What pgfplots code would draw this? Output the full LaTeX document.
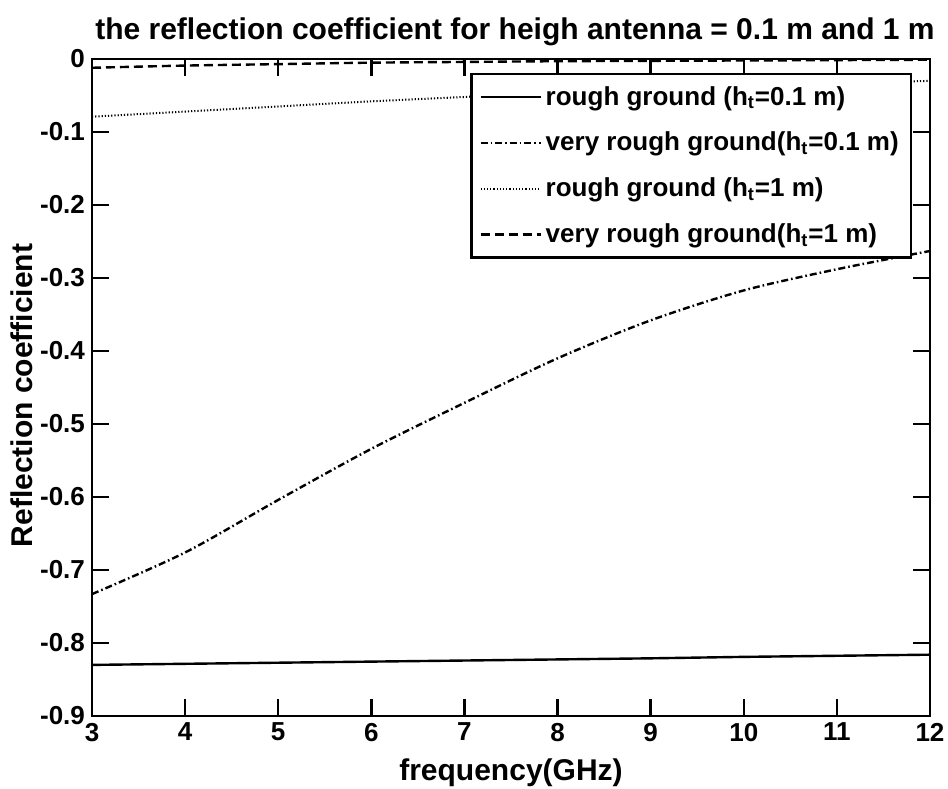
\documentclass[border=0pt]{standalone}
\usepackage{fontspec}
\setmainfont{Liberation Sans}
\usepackage{pgfplots}
\pgfplotsset{compat=1.18}

\begin{document}
\begin{tikzpicture}
\useasboundingbox (-46pt,-36pt) rectangle (428pt,358pt);
\begin{axis}[
    scale only axis,
    width=419pt, height=328.5pt,
    xmin=3, xmax=12, ymin=-0.9, ymax=0,
    xtick={3,4,5,6,7,8,9,10,11,12},
    ytick={-0.9,-0.8,-0.7,-0.6,-0.5,-0.4,-0.3,-0.2,-0.1,0},
    /pgf/number format/assume math mode=true,
    yticklabel style={/pgf/number format/.cd, fixed, precision=1},
    tick label style={font=\fontsize{13}{13}\selectfont\bfseries},
    major tick length=8.5pt,
    tick style={black, line width=1.2pt},
    axis line style={line width=1.2pt},
    title={the reflection coefficient for heigh antenna = 0.1 m and 1 m},
    title style={font=\fontsize{15}{15}\selectfont\bfseries, yshift=-3pt, xshift=2pt},
    xlabel={frequency(GHz)},
    ylabel={Reflection coefficient},
    label style={font=\fontsize{15}{15}\selectfont\bfseries},
    xlabel style={yshift=-2pt},
    ylabel style={yshift=-3pt, xshift=-4pt},
    legend cell align=left,
    legend style={at={(1,1)}, anchor=north east, xshift=-9pt, yshift=-7pt,
        draw=black, line width=1.2pt, fill=white,
        font=\fontsize{13}{13}\selectfont\bfseries,
        row sep=8pt, inner sep=4pt},
    legend image code/.code={\draw[#1] (0pt,0pt) -- (30pt,0pt);},
]
% rough ground, h_t = 0.1 m
\addplot[black, line width=1.2pt] coordinates {
(3,-0.830) (4,-0.8285) (5,-0.827) (6,-0.8255) (7,-0.824) (8,-0.8225) (9,-0.821) (10,-0.819) (11,-0.8175) (12,-0.816)
};
% very rough ground, h_t = 0.1 m
\addplot[black, line width=1.2pt, smooth, dash pattern=on 3.5pt off 1.5pt on 0.8pt off 1.5pt] coordinates {
(3,-0.733) (4,-0.676) (5,-0.604) (6,-0.534) (7,-0.471) (8,-0.410) (9,-0.358) (10,-0.317) (11,-0.288) (12,-0.263)
};
% rough ground, h_t = 1 m
\addplot[black, line width=1pt, smooth, dash pattern=on 0.6pt off 1pt] coordinates {
(3,-0.079) (4,-0.072) (5,-0.065) (6,-0.058) (7,-0.052) (8,-0.046) (9,-0.041) (10,-0.037) (11,-0.033) (12,-0.030)
};
% very rough ground, h_t = 1 m
\addplot[black, line width=1.2pt, smooth, dash pattern=on 4.5pt off 2.5pt] coordinates {
(3,-0.012) (4,-0.009) (5,-0.007) (6,-0.005) (7,-0.004) (8,-0.003) (9,-0.0025) (10,-0.002) (11,-0.0015) (12,-0.001)
};
\legend{rough ground (h\textsubscript{t}=0.1 m),
        very rough ground(h\textsubscript{t}=0.1 m),
        rough ground (h\textsubscript{t}=1 m),
        very rough ground(h\textsubscript{t}=1 m)}
\end{axis}
\end{tikzpicture}
\end{document}
